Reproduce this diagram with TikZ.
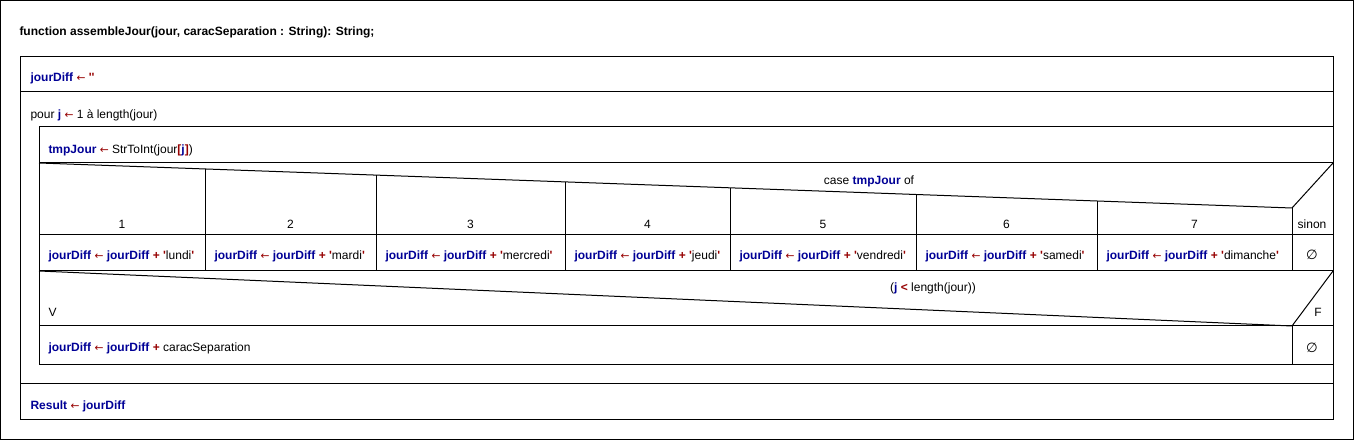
\documentclass[tikz,border=0pt]{standalone}
\usepackage{fontspec}
\setmainfont{Liberation Sans}
\newfontfamily\symfont{DejaVu Sans}
\usepackage{tikz}
\definecolor{varblue}{RGB}{0,0,150}
\definecolor{opred}{RGB}{150,0,0}
\newcommand{\nv}[1]{\textcolor{varblue}{\textbf{#1}}}
\newcommand{\op}[1]{\textcolor{opred}{\textbf{#1}}}
\newcommand{\flg}{\textcolor{opred}{{\symfont\fontsize{8}{10}\selectfont ←}}}
\newcommand{\qt}{\op{\textquotesingle}}
\newcommand{\vide}{{\symfont\itshape\fontsize{10}{12}\selectfont ∅}}

\begin{document}
\begin{tikzpicture}[x=0.75pt, y=-0.75pt, line width=0.75pt,
    txt/.style={inner sep=0pt, anchor=base west, font=\fontsize{9}{11}\selectfont},
    ctxt/.style={txt, anchor=base}]

    \useasboundingbox (0,0) rectangle (1354,441);
    \draw (0.5,0.5) rectangle (1353,440);

    \node[txt, font=\fontsize{9}{11}\selectfont\bfseries] (titre) at (19,36)
        {function assembleJour(jour, caracSeparation : String): String;};

    % corps de la fonction
    \draw (20,57) rectangle (1333,420);
    \draw (20,92) -- (1333,92);
    \draw (20,384) -- (1333,384);
    \node[txt] (init) at (30,82) {\nv{jourDiff} \flg{} \qt\qt};
    \node[txt] (pour) at (30,119) {pour \nv{j} \flg{} 1 à length(jour)};
    \node[txt] (res) at (30,410) {\nv{Result} \flg{} \nv{jourDiff}};

    % boucle
    \draw (39,127) rectangle (1333,365);
    \draw (39,163) -- (1333,163);
    \node[txt] (tmp) at (48,154) {\nv{tmpJour} \flg{} StrToInt(jour\op{[}\nv{j}\op{]})};

    % case of
    \draw (39,163) -- (1292,208) -- (1333,163);
    \draw (1292,208) -- (1292,271);
    \draw (39,235) -- (1333,235);
    \draw (39,271) -- (1333,271);
    \node[ctxt] (selon) at (869,185) {case \nv{tmpJour} of};
    \foreach \xa/\xb/\num/\jour in {39/205/1/lundi, 205/376/2/mardi,
            376/565/3/mercredi, 565/730/4/jeudi, 730/916/5/vendredi,
            916/1097/6/samedi, 1097/1292/7/dimanche} {
        \pgfmathsetmacro{\yt}{163+(\xa-39)/1253*45}
        \draw (\xa,\yt) -- (\xa,271);
        \node[ctxt] (num\num) at ({(\xa+\xb)/2},229) {\num};
        \node[txt] (cas\num) at (\xa+9,260)
            {\nv{jourDiff} \flg{} \nv{jourDiff} \op{+} \qt\jour\qt};
    }
    \node[ctxt] (sinon) at (1312,229) {sinon};
    \node[txt, anchor=center] (vide1) at (1312,255) {\vide};

    % si
    \draw (39,271) -- (1292,326) -- (1333,271);
    \draw (39,326) -- (1333,326);
    \draw (1292,326) -- (1292,365);
    \node[ctxt] (cond) at (933,292) {(\nv{j} \op{<} length(jour))};
    \node[txt] (vrai) at (48,317) {V};
    \node[ctxt] (faux) at (1318,317) {F};
    \node[txt] (sep) at (48,352) {\nv{jourDiff} \flg{} \nv{jourDiff} \op{+} caracSeparation};
    \node[txt, anchor=center] (vide2) at (1312,348) {\vide};

\end{tikzpicture}
\end{document}
